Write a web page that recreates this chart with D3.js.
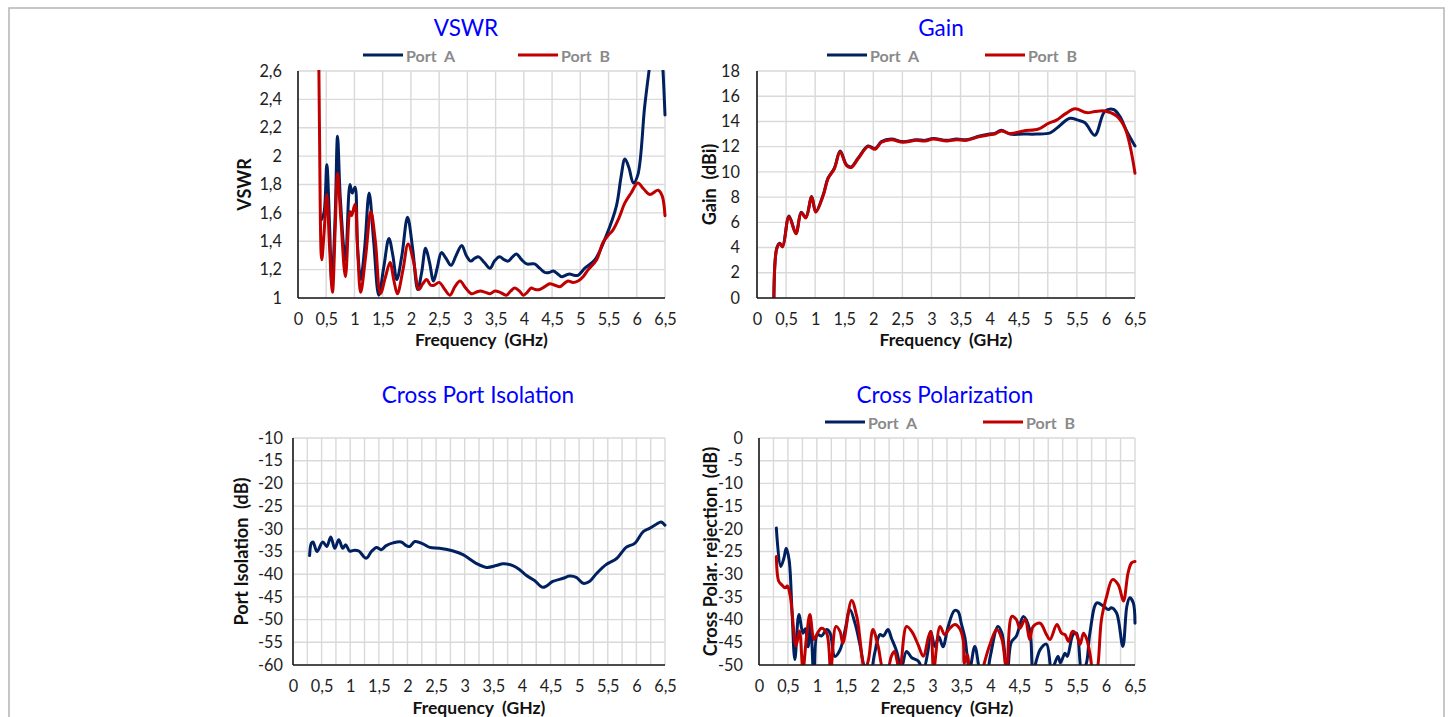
<!DOCTYPE html>
<html><head><meta charset="utf-8">
<script src="https://cdn.jsdelivr.net/npm/d3@7"></script>
<style>
html,body{margin:0;padding:0;background:#fff;}
svg{display:block;font-family:Lato,"Open Sans",sans-serif;}
</style></head>
<body>
<svg id="c" width="1453" height="717"></svg>
<script>
// ---------- DATA ----------
const seriesNames = ["Port  A", "Port  B"];
const xTickValues = [0,0.5,1,1.5,2,2.5,3,3.5,4,4.5,5,5.5,6,6.5];
const vswrTicks = [1,1.2,1.4,1.6,1.8,2,2.2,2.4,2.6];
const gainTicks = [0,2,4,6,8,10,12,14,16,18];
const isoTicks = [-60,-55,-50,-45,-40,-35,-30,-25,-20,-15,-10];
const xpolTicks = [-50,-45,-40,-35,-30,-25,-20,-15,-10,-5,0];

const vswrFreqA = [0.41,0.46,0.51,0.56,0.60,0.66,0.70,0.75,0.84,0.92,0.96,1.01,1.05,1.11,1.18,1.26,1.34,1.43,1.52,1.61,1.68,1.75,1.84,1.94,2.03,2.12,2.19,2.26,2.33,2.40,2.47,2.54,2.62,2.71,2.80,2.90,2.98,3.06,3.13,3.20,3.30,3.40,3.48,3.57,3.65,3.72,3.80,3.87,3.96,4.05,4.12,4.19,4.28,4.37,4.45,4.52,4.60,4.67,4.74,4.81,4.89,4.96,5.08,5.26,5.46,5.64,5.72,5.79,5.86,5.94,6.02,6.14,6.22,6.30,6.38,6.44,6.50];
const vswrA     = [1.55,1.60,1.94,1.50,1.10,1.60,2.14,1.70,1.27,1.80,1.74,1.78,1.40,1.13,1.35,1.74,1.40,1.02,1.22,1.42,1.30,1.13,1.30,1.57,1.35,1.06,1.18,1.35,1.25,1.12,1.22,1.32,1.28,1.23,1.30,1.37,1.30,1.26,1.28,1.29,1.25,1.21,1.26,1.29,1.27,1.26,1.29,1.31,1.27,1.24,1.24,1.24,1.21,1.18,1.18,1.19,1.17,1.15,1.16,1.17,1.16,1.16,1.21,1.27,1.44,1.65,1.85,1.98,1.92,1.81,1.87,2.35,2.61,2.85,2.95,2.75,2.29];
const vswrFreqB = [0.36,0.38,0.42,0.46,0.51,0.56,0.61,0.66,0.70,0.76,0.84,0.92,0.95,1.01,1.06,1.11,1.20,1.29,1.37,1.46,1.55,1.63,1.70,1.76,1.86,1.95,2.05,2.14,2.21,2.28,2.35,2.41,2.50,2.60,2.69,2.78,2.87,2.97,3.07,3.15,3.23,3.32,3.40,3.49,3.58,3.69,3.77,3.84,3.92,3.99,4.06,4.13,4.20,4.28,4.37,4.46,4.55,4.64,4.71,4.78,4.87,4.96,5.05,5.14,5.29,5.40,5.49,5.58,5.68,5.79,5.90,6.02,6.12,6.23,6.38,6.45,6.50];
const vswrB     = [3.20,2.20,1.27,1.45,1.73,1.35,1.04,1.50,1.88,1.55,1.15,1.61,1.58,1.66,1.30,1.04,1.30,1.61,1.40,1.03,1.15,1.25,1.12,1.03,1.20,1.38,1.25,1.06,1.10,1.13,1.09,1.09,1.11,1.06,1.02,1.08,1.12,1.07,1.03,1.04,1.05,1.04,1.03,1.05,1.04,1.02,1.05,1.07,1.05,1.02,1.04,1.07,1.06,1.06,1.08,1.10,1.09,1.08,1.10,1.12,1.11,1.12,1.15,1.20,1.27,1.39,1.44,1.48,1.56,1.67,1.74,1.81,1.77,1.73,1.76,1.72,1.58];

const gainFreqA = [0.29,0.34,0.39,0.44,0.55,0.67,0.76,0.84,0.94,1.01,1.14,1.22,1.33,1.43,1.54,1.62,1.74,1.91,2.03,2.14,2.31,2.51,2.74,2.89,3.03,3.26,3.43,3.60,3.83,4.00,4.09,4.20,4.35,4.58,4.81,5.04,5.15,5.38,5.52,5.64,5.81,5.98,6.13,6.24,6.36,6.50];
const gainA     = [0,3.96,4.35,4.10,6.50,5.15,6.80,6.40,8.05,6.85,8.20,9.50,10.30,11.65,10.55,10.40,11.10,12.05,11.85,12.40,12.60,12.40,12.55,12.50,12.65,12.50,12.60,12.55,12.85,13.00,13.05,13.30,13.00,13.00,13.00,13.10,13.45,14.25,14.10,13.90,12.90,14.80,14.95,14.40,13.20,12.05];
const gainFreqB = [0.29,0.34,0.39,0.44,0.55,0.67,0.76,0.84,0.94,1.01,1.14,1.22,1.33,1.43,1.54,1.62,1.74,1.91,2.03,2.14,2.31,2.51,2.74,2.89,3.03,3.26,3.43,3.60,3.83,4.00,4.09,4.20,4.35,4.58,4.84,5.01,5.15,5.30,5.47,5.67,5.81,5.98,6.18,6.33,6.50];
const gainB     = [0,3.90,4.30,4.05,6.45,5.10,6.75,6.35,8.00,6.80,8.15,9.45,10.25,11.60,10.50,10.35,11.05,12.00,11.80,12.35,12.55,12.35,12.50,12.45,12.60,12.45,12.55,12.50,12.80,12.95,13.00,13.25,13.05,13.25,13.40,13.85,14.10,14.60,15.00,14.70,14.78,14.83,14.45,13.45,9.90];

const isoFreq = [0.29,0.32,0.35,0.42,0.52,0.59,0.66,0.73,0.80,0.87,0.92,0.99,1.08,1.15,1.28,1.37,1.46,1.54,1.63,1.75,1.89,1.98,2.04,2.13,2.27,2.39,2.56,2.80,2.97,3.20,3.38,3.55,3.67,3.84,3.96,4.08,4.22,4.37,4.54,4.72,4.83,4.95,5.07,5.18,5.30,5.47,5.65,5.82,5.97,6.12,6.23,6.35,6.43,6.50];
const isoVal  = [-35.9,-33.2,-32.9,-35.0,-32.9,-33.9,-31.8,-34.3,-32.4,-34.3,-33.5,-34.9,-34.7,-34.9,-36.5,-35.0,-34.1,-34.6,-33.7,-33.1,-32.9,-33.7,-33.9,-32.8,-33.3,-34.1,-34.3,-34.9,-35.7,-37.6,-38.5,-38.1,-37.7,-38.1,-39.0,-40.3,-41.4,-42.9,-41.6,-40.9,-40.4,-40.7,-42.0,-41.6,-39.9,-37.9,-36.6,-34.1,-33.2,-30.6,-29.9,-29.0,-28.5,-29.2];

const xpolFreqA = [0.30,0.375,0.43,0.47,0.52,0.57,0.62,0.69,0.76,0.80,0.85,0.89,0.95,1.01,1.08,1.17,1.23,1.31,1.40,1.49,1.57,1.66,1.74,1.83,1.91,2.00,2.09,2.15,2.23,2.29,2.38,2.46,2.55,2.64,2.75,2.84,2.92,2.97,3.04,3.11,3.18,3.27,3.38,3.44,3.50,3.56,3.64,3.73,3.81,3.90,4.00,4.13,4.20,4.29,4.36,4.45,4.57,4.68,4.74,4.86,4.97,5.06,5.17,5.21,5.29,5.33,5.43,5.49,5.58,5.65,5.72,5.84,5.95,6.04,6.09,6.18,6.29,6.36,6.41,6.47,6.50];
const xpolA     = [-19.8,-28.3,-26.5,-24.3,-26.8,-38.0,-48.8,-38.9,-43.0,-42.0,-46.0,-40.0,-53.0,-43.3,-43.6,-42.2,-43.0,-48.1,-46.7,-42.2,-37.8,-40.8,-45.2,-51.0,-53.0,-47.4,-43.3,-43.6,-42.2,-44.1,-47.0,-50.7,-47.0,-48.4,-49.1,-51.0,-47.0,-42.6,-45.9,-43.8,-46.0,-41.5,-38.0,-38.2,-41.0,-44.0,-51.0,-45.9,-51.0,-55.0,-48.0,-41.5,-43.0,-52.0,-45.0,-43.6,-39.3,-42.2,-51.0,-46.6,-45.4,-51.0,-48.1,-49.5,-47.4,-48.1,-43.3,-43.0,-51.0,-50.0,-43.0,-36.3,-37.0,-37.8,-37.4,-38.5,-45.9,-37.0,-35.2,-36.3,-40.8];
const xpolFreqB = [0.30,0.34,0.39,0.45,0.49,0.54,0.64,0.70,0.76,0.82,0.88,0.95,1.01,1.08,1.17,1.24,1.33,1.40,1.45,1.60,1.69,1.83,1.89,1.97,2.06,2.15,2.22,2.29,2.34,2.43,2.55,2.64,2.75,2.84,2.93,2.97,3.02,3.13,3.21,3.30,3.39,3.47,3.53,3.55,3.60,3.66,3.78,3.88,4.00,4.11,4.20,4.28,4.37,4.45,4.51,4.60,4.68,4.74,4.86,4.97,5.03,5.15,5.23,5.29,5.35,5.42,5.49,5.55,5.61,5.66,5.72,5.80,5.86,5.92,6.01,6.11,6.21,6.30,6.38,6.44,6.50];
const xpolB     = [-26.1,-31.5,-32.3,-33.0,-32.6,-34.8,-45.8,-42.5,-51.0,-44.0,-38.9,-44.4,-43.0,-41.9,-43.0,-51.0,-41.5,-42.6,-45.2,-35.8,-39.3,-51.0,-49.0,-42.2,-45.9,-51.0,-51.0,-48.0,-47.0,-51.0,-41.5,-42.6,-45.5,-48.1,-43.8,-42.6,-51.0,-41.5,-43.3,-41.9,-41.1,-42.0,-44.5,-49.6,-47.8,-53.0,-56.0,-50.3,-45.2,-42.2,-44.4,-51.0,-39.3,-40.0,-41.9,-40.0,-44.4,-41.5,-40.8,-43.3,-44.4,-41.1,-43.0,-43.3,-44.8,-42.6,-43.3,-45.5,-43.0,-44.1,-47.4,-54.0,-50.0,-40.0,-34.9,-31.2,-32.3,-35.9,-29.7,-27.5,-27.2];

// ---------- DRAWING ----------
const colA = "#002060", colB = "#C00000";
const svg = d3.select("#c");
const fmt = v => String(+(+v).toFixed(2)).replace(".", ",");

// outer frame
svg.append("rect").attr("x",9).attr("y",8).attr("width",1435).attr("height",740)
  .attr("fill","none").attr("stroke","#b4b4b4").attr("stroke-width",1.5);

let clipId = 0;
function panel(cfg){
  const x = d3.scaleLinear().domain([0,6.5]).range([cfg.x0, cfg.x1]);
  const y = d3.scaleLinear().domain(cfg.yDomain).range([cfg.y1, cfg.y0]);
  const g = svg.append("g");

  // grid
  const gx = d3.range(0, 6.5 + 1e-6, cfg.xStep);
  g.append("g").selectAll("line").data(gx).join("line")
    .attr("x1", d => x(d)).attr("x2", d => x(d))
    .attr("y1", cfg.y0).attr("y2", cfg.y1)
    .attr("stroke", "#d9d9d9").attr("stroke-width", 1.4);
  g.append("g").selectAll("line").data(cfg.yTicks).join("line")
    .attr("x1", cfg.x0).attr("x2", cfg.x1)
    .attr("y1", d => y(d)).attr("y2", d => y(d))
    .attr("stroke", "#d9d9d9").attr("stroke-width", 1.4);

  // axes via d3 axis generators
  const ax = g.append("g").attr("transform", `translate(0,${cfg.y1})`)
    .call(d3.axisBottom(x).tickValues(xTickValues).tickFormat(fmt).tickSize(0).tickPadding(15));
  const ay = g.append("g").attr("transform", `translate(${cfg.x0},0)`)
    .call(d3.axisLeft(y).tickValues(cfg.yTicks).tickFormat(fmt).tickSize(0).tickPadding(cfg.yPad));
  [ax, ay].forEach(a => {
    a.select(".domain").remove();
    a.selectAll("text").attr("font-family","Lato").attr("font-size","16.3px").attr("fill","#1e1e1e");
  });

  // data
  const id = "clip" + (clipId++);
  svg.append("clipPath").attr("id", id).append("rect")
    .attr("x", cfg.x0).attr("y", cfg.y0 - 1).attr("width", cfg.x1 - cfg.x0 + 2).attr("height", cfg.y1 - cfg.y0 + 1);
  const line = d3.line().x(d => x(d[0])).y(d => y(d[1])).curve(d3.curveCatmullRom.alpha(0.5));
  cfg.series.forEach(s => {
    const pts = s.f.map((f, i) => [f, s.v[i]]);
    g.append("path").attr("clip-path", `url(#${id})`).attr("d", line(pts))
      .attr("fill","none").attr("stroke", s.c).attr("stroke-width", 3)
      .attr("stroke-linejoin","round").attr("stroke-linecap","round");
  });

  // axis lines
  g.append("line").attr("x1", cfg.x0).attr("x2", cfg.x0).attr("y1", cfg.y0).attr("y2", cfg.y1)
    .attr("stroke","#1a1a1a").attr("stroke-width",1.6);
  g.append("line").attr("x1", cfg.x0).attr("x2", cfg.x1).attr("y1", cfg.y1).attr("y2", cfg.y1)
    .attr("stroke","#1a1a1a").attr("stroke-width",1.6);

  // titles
  g.append("text").attr("x", cfg.titleX).attr("y", cfg.titleY).attr("text-anchor","middle")
    .attr("font-family","Lato").attr("font-size","22.5px").attr("fill","#0000ff").text(cfg.title);
  g.append("text").attr("x", (cfg.x0 + cfg.x1) / 2).attr("y", cfg.xTitleY).attr("text-anchor","middle")
    .attr("font-family","Lato").attr("font-weight","bold").attr("font-size","17.5px").attr("fill","#111")
    .attr("xml:space","preserve").text("Frequency  (GHz)");
  g.append("text").attr("transform", `translate(${cfg.yTitleX},${(cfg.y0 + cfg.y1) / 2}) rotate(-90)`)
    .attr("text-anchor","middle").attr("dominant-baseline","central")
    .attr("font-family","Lato").attr("font-weight","bold").attr("font-size","18px").attr("fill","#111")
    .attr("xml:space","preserve").text(cfg.yTitle);

  // legend
  if (cfg.legend) {
    cfg.series.forEach((s, i) => {
      const lx = cfg.legend[i];
      g.append("line").attr("x1", lx).attr("x2", lx + 40).attr("y1", cfg.legendY).attr("y2", cfg.legendY)
        .attr("stroke", s.c).attr("stroke-width", 3);
      g.append("text").attr("x", lx + 43).attr("y", cfg.legendY).attr("dominant-baseline","central")
        .attr("font-family","Lato").attr("font-weight","bold").attr("font-size","16px").attr("fill","#8a8a8a")
        .attr("xml:space","preserve").text(seriesNames[i]);
    });
  }
}

panel({x0:298, x1:665, y0:71, y1:298, yDomain:[1,2.6], yTicks:vswrTicks, xStep:0.5,
  yPad:16, title:"VSWR", titleX:466, titleY:36, xTitleY:346, yTitle:"VSWR", yTitleX:244,
  legend:[363,518], legendY:55,
  series:[{f:vswrFreqA, v:vswrA, c:colA},{f:vswrFreqB, v:vswrB, c:colB}]});

panel({x0:757, x1:1135, y0:71, y1:298, yDomain:[0,18], yTicks:gainTicks, xStep:0.5,
  yPad:17, title:"Gain", titleX:941, titleY:36, xTitleY:346, yTitle:"Gain  (dBi)", yTitleX:709,
  legend:[827,985], legendY:55,
  series:[{f:gainFreqA, v:gainA, c:colA},{f:gainFreqB, v:gainB, c:colB}]});

panel({x0:293, x1:665, y0:438, y1:665, yDomain:[-60,-10], yTicks:isoTicks, xStep:0.25,
  yPad:10, title:"Cross Port Isolation", titleX:478, titleY:403, xTitleY:713.5, yTitle:"Port Isolation  (dB)", yTitleX:241,
  legend:null,
  series:[{f:isoFreq, v:isoVal, c:colA}]});

panel({x0:759, x1:1135, y0:438, y1:665, yDomain:[-50,0], yTicks:xpolTicks, xStep:0.25,
  yPad:16, title:"Cross Polarization", titleX:945, titleY:403, xTitleY:713.5, yTitle:"Cross Polar. rejection  (dB)", yTitleX:710,
  legend:[825,983], legendY:422,
  series:[{f:xpolFreqA, v:xpolA, c:colA},{f:xpolFreqB, v:xpolB, c:colB}]});
</script>
</body></html>
